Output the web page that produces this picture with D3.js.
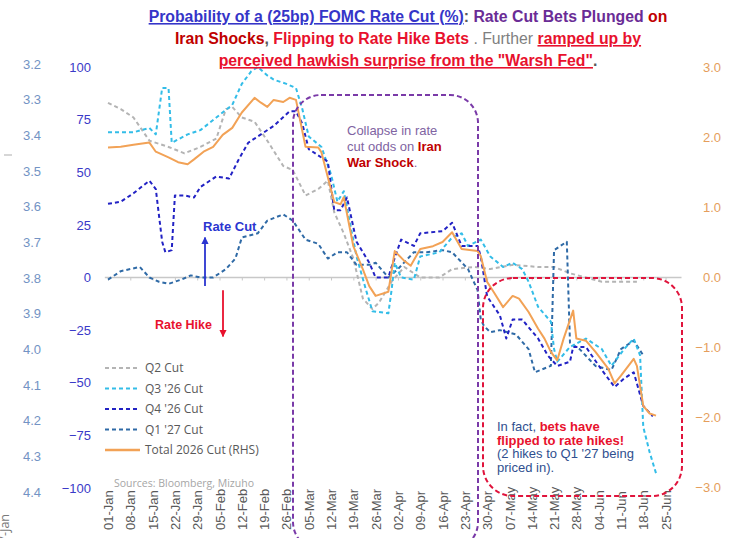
<!DOCTYPE html>
<meta charset="utf-8">
<style>

html, body {
  margin: 0;
  background: #fff;
}

svg {
  display: block;
  font-family: "Open Sans", "Liberation Sans", sans-serif;
}

.series {
  fill: none;
  stroke-width: 2;
  stroke-linejoin: round;
}

.dashed {
  stroke-dasharray: 4 3;
}

.note {
  font-family: "Liberation Sans", Arial, sans-serif;
  font-size: 13px;
}

</style>

<body>
  <svg id="chart" width="736" height="538"></svg>
</body>

<script src="https://cdn.jsdelivr.net/npm/d3@7"></script>
<script>

/* tick labels */
var weekLabels = ["01-Jan", "08-Jan", "15-Jan", "22-Jan", "29-Jan", "05-Feb", "12-Feb", "19-Feb",
  "26-Feb", "05-Mar", "12-Mar", "19-Mar", "26-Mar", "02-Apr", "09-Apr", "16-Apr", "23-Apr",
  "30-Apr", "07-May", "14-May", "21-May", "28-May", "04-Jun", "11-Jun", "18-Jun", "25-Jun"]
var rateTicks = [3.2, 3.3, 3.4, 3.5, 3.6, 3.7, 3.8, 3.9, 4.0, 4.1, 4.2, 4.3, 4.4]
var pctTicks = [100, 75, 50, 25, 0, -25, -50, -75, -100]
var rhsTicks = [3, 2, 1, 0, -1, -2, -3]

/* series (month-day, value) */
var q2Cut = [["01-01",83],["01-05",80],["01-09",76],["01-14",65],["01-20",62],["01-25",59],["01-30",62],
  ["02-04",66],["02-07",80],["02-09",81],["02-12",76],["02-16",74],["02-20",65],["02-25",53],["02-28",51],
  ["03-04",39],["03-08",42],["03-11",46],["03-13",31],["03-16",21],["03-19",9],["03-22",-10],["03-25",-15],
  ["03-27",-12],["03-31",-2],["04-04",5],["04-09",0],["04-15",0],["04-19",4],["04-26",5],["05-01",4],
  ["05-08",6],["05-16",5],["05-21",5],["05-26",2],["05-31",0],["06-05",-2],["06-11",-2],["06-16",-2]]

var q3Cut = [["01-01",69],["01-05",69],["01-09",69],["01-14",71],["01-16",68],["01-18",90],["01-20",90],
  ["01-21",64],["01-26",68],["01-30",70],["02-04",76],["02-09",82],["02-12",92],["02-15",98],["02-17",100],
  ["02-20",96],["02-22",94],["02-26",92],["03-01",90],["03-03",80],["03-05",67],["03-09",62],["03-12",49],
  ["03-14",36],["03-16",41],["03-20",10],["03-23",-6],["03-25",-16],["03-30",-17],["03-31",-6],["04-01",7],
  ["04-03",0],["04-07",-1],["04-09",10],["04-15",12],["04-19",19],["04-22",21],["04-24",15],["04-28",18],
  ["05-01",10],["05-05",5],["05-08",7],["05-11",4],["05-13",-2],["05-16",-14],["05-20",-21],["05-21",-34],
  ["05-22",-40],["05-26",-33],["05-31",-29],["06-05",-34],["06-08",-42],["06-12",-34],["06-15",-29],
  ["06-17",-37],["06-18",-71],["06-20",-83],["06-22",-93]]

var q4Cut = [["01-01",35],["01-05",36],["01-09",40],["01-14",46],["01-16",42],["01-18",17],["01-19",12],
  ["01-21",13],["01-22",39],["01-25",39],["01-28",38],["01-30",43],["02-04",48],["02-08",47],["02-11",56],
  ["02-14",64],["02-18",68],["02-22",72],["02-27",79],["03-01",79],["03-03",73],["03-05",61],["03-09",57],
  ["03-11",55],["03-13",32],["03-15",32],["03-17",38],["03-20",17],["03-24",7],["03-26",0],["03-30",0],
  ["03-31",5],["04-03",18],["04-07",15],["04-09",21],["04-16",22],["04-19",26],["04-22",15],["04-27",15],
  ["04-28",10],["04-30",-9],["05-04",-18],["05-06",-29],["05-08",-20],["05-11",-20],["05-16",-29],
  ["05-19",-37],["05-22",-42],["05-26",-40],["05-27",-33],["05-31",-33],["06-05",-44],["06-09",-52],
  ["06-12",-48],["06-15",-45],["06-18",-61],["06-21",-66]]

var q1Cut = [["01-01",-1],["01-05",3],["01-11",5],["01-14",0],["01-17",-2],["01-20",-3],["01-24",-1],
  ["01-27",1],["01-30",0],["02-03",0],["02-07",4],["02-10",9],["02-12",19],["02-17",21],["02-20",27],
  ["02-25",30],["02-28",27],["03-04",18],["03-08",16],["03-11",9],["03-14",12],["03-17",12],["03-20",6],
  ["03-24",6],["03-26",7],["03-30",0],["04-02",4],["04-07",12],["04-11",12],["04-16",13],["04-19",12],
  ["04-24",4],["04-27",-6],["04-28",-20],["04-29",-23],["05-01",-26],["05-04",-25],["05-09",-27],
  ["05-13",-34],["05-15",-45],["05-20",-42],["05-21",13],["05-25",17],["05-26",-31],["05-29",-34],
  ["06-03",-42],["06-08",-44],["06-11",-34],["06-15",-30],["06-18",-37]]

var total2026 = [["01-01",1.85],["01-05",1.86],["01-09",1.89],["01-14",1.92],["01-16",1.79],["01-20",1.71],
  ["01-23",1.64],["01-26",1.61],["01-28",1.68],["01-31",1.79],["02-03",1.86],["02-06",2.03],["02-09",2.13],
  ["02-12",2.35],["02-16",2.56],["02-18",2.49],["02-20",2.43],["02-22",2.53],["02-25",2.50],["02-27",2.56],
  ["03-01",2.53],["03-04",1.86],["03-08",1.85],["03-09",1.78],["03-13",1.07],["03-15",1.04],["03-16",1.14],
  ["03-19",0.44],["03-22",0.11],["03-24",-0.13],["03-26",-0.27],["03-30",-0.21],["04-01",0.37],["04-04",0.23],
  ["04-06",0.16],["04-09",0.40],["04-13",0.44],["04-16",0.50],["04-19",0.64],["04-22",0.40],["04-27",0.37],
  ["04-28",0.30],["04-30",-0.07],["05-02",-0.21],["05-05",-0.43],["05-08",-0.27],["05-10",-0.31],
  ["05-13",-0.50],["05-16",-0.74],["05-18",-0.88],["05-20",-1.07],["05-22",-1.19],["05-24",-0.88],
  ["05-27",-0.48],["05-28",-0.88],["05-31",-0.91],["06-03",-1.07],["06-07",-1.31],["06-09",-1.52],
  ["06-11",-1.41],["06-15",-1.17],["06-16",-1.27],["06-18",-1.84],["06-20",-1.95],["06-22",-1.98]]

var legendLabels = ["Q2 Cut", "Q3 '26 Cut", "Q4 '26 Cut", "Q1 '27 Cut", "Total  2026 Cut (RHS)"]

/* setup */
var svg = d3.select("#chart")
var parseDay = d3.timeParse("%Y-%m-%d")
var parseTick = d3.timeParse("%d-%b-%Y")

function toPoints(arr) {
  return arr.map(function (p) { return { date: parseDay("2026-" + p[0]), value: p[1] } })
}

var x = d3.scaleTime()
  .domain([parseDay("2026-01-01"), parseDay("2026-06-30")])
  .range([108, 681.5])
var yPct = d3.scaleLinear().domain([-100, 100]).range([488, 67])
var yRhs = d3.scaleLinear().domain([-3, 3]).range([487, 67])
var yRate = d3.scaleLinear().domain([3.2, 4.4]).range([64, 492])

var zeroY = yPct(0)

/* zero line + weekly ticks + rotated date labels */
svg.append("line")
  .attr("x1", x(parseDay("2025-12-31"))).attr("x2", x.range()[1])
  .attr("y1", zeroY).attr("y2", zeroY)
  .attr("stroke", "#c8c8c8").attr("stroke-width", 1.5)

var weekDates = weekLabels.map(function (l) { return parseTick(l + "-2026") })
var xAxis = svg.append("g")
  .attr("transform", "translate(0," + zeroY + ")")
  .call(d3.axisBottom(x).tickValues(weekDates).tickSize(3).tickSizeOuter(0)
    .tickFormat(function (d, i) { return weekLabels[i] }))
xAxis.select(".domain").remove()
xAxis.selectAll(".tick line").attr("stroke", "#c8c8c8")
xAxis.selectAll(".tick text")
  .attr("transform", "translate(0," + (530 - zeroY) + ") rotate(-90)")
  .attr("x", 0).attr("y", 0).attr("dy", "0.35em")
  .style("text-anchor", "start")
  .style("font-size", "13px")
  .attr("fill", "#595959")

/* value axes */
function styleAxis(g, color) {
  g.select(".domain").remove()
  g.selectAll(".tick line").remove()
  g.selectAll(".tick text").attr("fill", color).style("font-size", "13px")
}

svg.append("g").attr("transform", "translate(41,0)")
  .call(d3.axisLeft(yRate).tickValues(rateTicks).tickFormat(d3.format(".1f")).tickSize(0).tickPadding(0))
  .call(styleAxis, "#7393c4")

svg.append("g").attr("transform", "translate(91,0)")
  .call(d3.axisLeft(yPct).tickValues(pctTicks).tickSize(0).tickPadding(0))
  .call(styleAxis, "#3a3ac8")

svg.append("g").attr("transform", "translate(721,0)")
  .call(d3.axisLeft(yRhs).tickValues(rhsTicks).tickFormat(d3.format(".1f")).tickSize(0).tickPadding(0))
  .call(styleAxis, "#e59e5c")

/* stray marks at the cropped left edge */
svg.append("line").attr("x1", 4).attr("x2", 12).attr("y1", 155).attr("y2", 155)
  .attr("stroke", "#bbb").attr("stroke-width", 1.2)
svg.append("text").attr("transform", "translate(5,514) rotate(-90)")
  .attr("text-anchor", "end").attr("dy", "0.35em")
  .style("font-size", "12.5px").attr("fill", "#7a7a7a").text("27-Jan")

/* lines */
var pctLine = d3.line().x(function (d) { return x(d.date) }).y(function (d) { return yPct(d.value) })
var rhsLine = d3.line().x(function (d) { return x(d.date) }).y(function (d) { return yRhs(d.value) })

var series = [
  { data: q2Cut, color: "#b4b4b4", dashed: true, line: pctLine },
  { data: q1Cut, color: "#2f6aa6", dashed: true, line: pctLine },
  { data: q3Cut, color: "#33bde8", dashed: true, line: pctLine },
  { data: q4Cut, color: "#2222c4", dashed: true, line: pctLine },
  { data: total2026, color: "#f2a256", dashed: false, line: rhsLine }
]

series.forEach(function (s) {
  svg.append("path")
    .datum(toPoints(s.data))
    .attr("class", "series" + (s.dashed ? " dashed" : ""))
    .attr("stroke", s.color)
    .attr("stroke-width", s.dashed ? 2 : 2.6)
    .attr("d", s.line)
})

/* legend */
var legendOrder = [series[0], series[2], series[3], series[1], series[4]]
var legend = svg.append("g").attr("transform", "translate(105,368)")
legendOrder.forEach(function (s, i) {
  var row = legend.append("g").attr("transform", "translate(0," + (i * 20.5) + ")")
  row.append("line").attr("x1", 0).attr("x2", 35).attr("y1", 0).attr("y2", 0)
    .attr("class", s.dashed ? "dashed" : null)
    .attr("stroke", s.color).attr("stroke-width", s.dashed ? 2 : 2.6)
  row.append("text").attr("x", 40).attr("dy", "0.35em")
    .style("font-size", "12px").attr("fill", "#595959").text(legendLabels[i])
})

svg.append("text").attr("x", 114).attr("y", 487)
  .style("font-size", "10.5px").attr("fill", "#a6a6a6")
  .text("Sources: Bloomberg,  Mizuho")

/* rate cut / hike arrows */
var defs = svg.append("defs")
function arrowHead(id, color) {
  defs.append("marker").attr("id", id)
    .attr("viewBox", "0 -5 10 10").attr("refX", 9).attr("refY", 0)
    .attr("markerWidth", 4).attr("markerHeight", 4).attr("orient", "auto")
    .append("path").attr("d", "M0,-5L10,0L0,5Z").attr("fill", color)
}
arrowHead("up", "#2b35d0")
arrowHead("down", "#e8112d")

svg.append("line").attr("x1", 205).attr("x2", 205).attr("y1", yPct(-4)).attr("y2", yPct(19))
  .attr("stroke", "#2b35d0").attr("stroke-width", 1.8).attr("marker-end", "url(#up)")
svg.append("text").attr("class", "note").attr("x", 203).attr("y", 231)
  .style("font-weight", "bold").attr("fill", "#2b35d0").text("Rate Cut")

svg.append("line").attr("x1", 223).attr("x2", 223).attr("y1", yPct(-6)).attr("y2", yPct(-28))
  .attr("stroke", "#e8112d").attr("stroke-width", 1.8).attr("marker-end", "url(#down)")
svg.append("text").attr("class", "note").attr("x", 155).attr("y", 329)
  .style("font-weight", "bold").style("font-size", "12.5px").attr("fill", "#e8112d").text("Rate Hike")

/* annotation boxes */
svg.append("rect").attr("x", 293).attr("y", 95).attr("width", 185).attr("height", 455).attr("rx", 28)
  .attr("fill", "none").attr("stroke", "#7a3aa8").attr("stroke-width", 2).attr("stroke-dasharray", "5 3")

svg.append("rect").attr("x", 483).attr("y", 278).attr("width", 199).attr("height", 218).attr("rx", 30)
  .attr("fill", "none").attr("stroke", "#e0143c").attr("stroke-width", 2).attr("stroke-dasharray", "5 3")

function noteLines(x0, y0, step, lines) {
  lines.forEach(function (parts, i) {
    var t = svg.append("text").attr("class", "note").attr("x", x0).attr("y", y0 + i * step)
    parts.forEach(function (p) {
      t.append("tspan").attr("fill", p.c).style("font-weight", p.b ? "bold" : "normal").text(p.t)
    })
  })
}

noteLines(347, 135, 16, [
  [{ t: "Collapse in rate", c: "#8064a2" }],
  [{ t: "cut odds on ", c: "#8064a2" }, { t: "Iran", c: "#c00000", b: true }],
  [{ t: "War Shock", c: "#c00000", b: true }, { t: ".", c: "#8064a2" }]
])

noteLines(497, 431, 13.5, [
  [{ t: "In fact, ", c: "#2f4f8f" }, { t: "bets have", c: "#e8112d", b: true }],
  [{ t: "flipped  to rate hikes!", c: "#e8112d", b: true }],
  [{ t: "(2 hikes to Q1 '27 being", c: "#2f4f8f" }],
  [{ t: "priced in).", c: "#2f4f8f" }]
])

/* title */
var titleLines = [
  [{ t: "Probability of a (25bp) FOMC Rate Cut (%)", c: "#3535c8", u: true }, { t: ": ", c: "#595959" },
   { t: "Rate Cut Bets Plunged", c: "#6a2c96" }, { t: " on", c: "#c00000" }],
  [{ t: "Iran Shocks", c: "#c00000" }, { t: ", ", c: "#595959" }, { t: "Flipping to Rate Hike Bets", c: "#e8112d" },
   { t: " . Further ", c: "#7f7f7f", n: true }, { t: "ramped up by", c: "#e8112d", u: true }],
  [{ t: "perceived hawkish surprise from the \"Warsh Fed\"", c: "#e8112d", u: true }, { t: ".", c: "#595959" }]
]
titleLines.forEach(function (parts, i) {
  var t = svg.append("text").attr("x", 408).attr("y", 22 + i * 22)
    .attr("text-anchor", "middle")
    .style("font-family", "'Liberation Sans Narrow', 'Arial Narrow', sans-serif")
    .style("font-size", "15.8px").style("font-weight", "bold")
  parts.forEach(function (p) {
    t.append("tspan").attr("fill", p.c)
      .style("font-weight", p.n ? "normal" : "bold")
      .style("text-decoration", p.u ? "underline" : "none")
      .text(p.t)
  })
})

</script>
